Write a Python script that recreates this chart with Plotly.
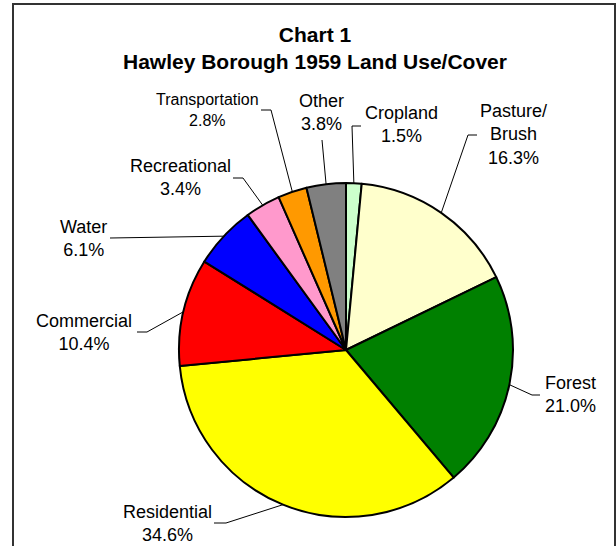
import math
import plotly.graph_objects as go

# ---- data ----
categories = ["Cropland", "Pasture/Brush", "Forest", "Residential", "Commercial",
              "Water", "Recreational", "Transportation", "Other"]
percent = [1.5, 16.3, 21.0, 34.6, 10.4, 6.1, 3.4, 2.8, 3.8]
label_text = ["Cropland", "Pasture/<br>Brush", "Forest", "Residential", "Commercial",
              "Water", "Recreational", "Transportation", "Other"]
colors = ["#CCFFCC", "#FFFFCC", "#008000", "#FFFF00", "#FF0000",
          "#0000FF", "#FF99CC", "#FF9900", "#808080"]
title_lines = ["Chart 1", "Hawley Borough 1959 Land Use/Cover"]

# ---- layout constants (pixels) ----
W, H = 616, 546
CX, CY, R = 346, 350, 167
# label centre, leader start, leader elbow, font size
label_pos = {
    "Cropland":       ((401, 125), (361, 126), (352, 126), 18),
    "Pasture/Brush":  ((513, 134), (477, 135), (468, 135), 18),
    "Forest":         ((570, 394), (540, 395), (532, 395), 18),
    "Residential":    ((167, 523), (214, 523), (226, 523), 18),
    "Commercial":     ((84, 332),  (137, 332), (147, 332), 18),
    "Water":          ((83, 238),  (110, 238), (110, 238), 18),
    "Recreational":   ((180, 178), (233, 178), (243, 178), 18),
    "Transportation": ((207, 110), (261, 110), (271, 110), 16),
    "Other":          ((321, 113), (322, 140), (322, 140), 18),
}

def px(x):
    return x / W

def py(y):
    return 1 - y / H

FONT = "Liberation Sans, Arial, Helvetica, sans-serif"

fig = go.Figure(go.Pie(
    labels=categories,
    values=percent,
    sort=False,
    direction="clockwise",
    rotation=0,
    textinfo="none",
    hoverinfo="label+percent",
    marker=dict(colors=colors, line=dict(color="black", width=2)),
    domain=dict(x=[px(CX - R), px(CX + R)], y=[py(CY + R), py(CY - R)]),
    showlegend=False,
))

annotations = []
shapes = []
total = sum(percent)
cum = 0.0
for name, val, txt in zip(categories, percent, label_text):
    mid = (cum + val / 2) / total
    cum += val
    ang = 2 * math.pi * mid
    ex = CX + R * math.sin(ang)
    ey = CY - R * math.cos(ang)
    (lx, ly), (sx, sy), (bx, by), fs = label_pos[name]
    annotations.append(dict(
        x=px(lx), y=py(ly), xref="paper", yref="paper",
        text=f"{txt}<br>{val:.1f}%", showarrow=False,
        xanchor="center", yanchor="middle", align="center",
        font=dict(family=FONT, size=fs, color="black"),
    ))
    path = f"M {px(sx)} {py(sy)} L {px(bx)} {py(by)} L {px(ex)} {py(ey)}"
    shapes.append(dict(type="path", path=path, xref="paper", yref="paper",
                       line=dict(color="black", width=1), layer="below"))

annotations.append(dict(
    x=px(315), y=py(48), xref="paper", yref="paper",
    text="<b>" + title_lines[0] + "</b><br><b>" + title_lines[1] + "</b>",
    showarrow=False, xanchor="center", yanchor="middle", align="center",
    font=dict(family=FONT, size=21, color="black"),
))

# chart frame
shapes.append(dict(type="rect", xref="paper", yref="paper",
                   x0=px(13), x1=px(615), y0=py(560), y1=py(4),
                   line=dict(color="#333333", width=2), layer="below"))

fig.update_layout(
    width=W, height=H,
    margin=dict(l=0, r=0, t=0, b=0),
    paper_bgcolor="white", plot_bgcolor="white",
    annotations=annotations, shapes=shapes,
)

fig.write_html("out.html", config={"displayModeBar": False},
               post_script="document.body.style.margin='0';document.body.style.overflow='hidden';")
